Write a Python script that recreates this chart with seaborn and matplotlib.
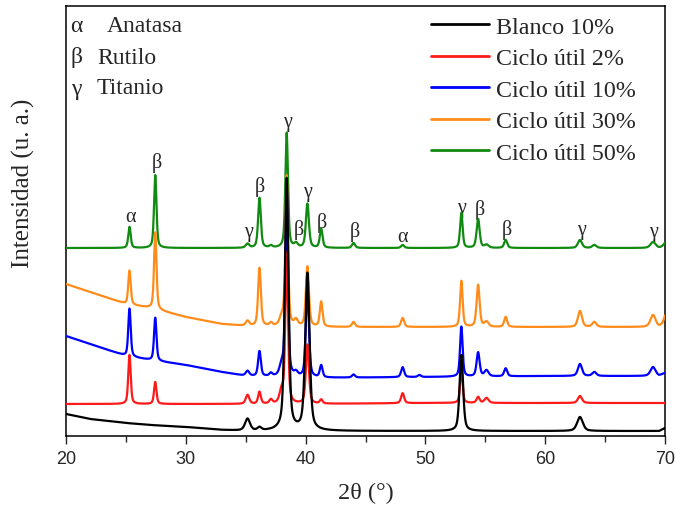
import numpy as np
import pandas as pd
import seaborn as sns
import matplotlib
matplotlib.use("Agg")
import matplotlib.pyplot as plt

# ---- diffraction data (2θ in degrees, intensity in arbitrary units) ----
series_names = ["Blanco 10%", "Ciclo útil 2%", "Ciclo útil 10%", "Ciclo útil 30%", "Ciclo útil 50%"]
series_colors = ["#000000", "#ff1a1a", "#0000ff", "#ff8c1a", "#108a10"]

# reflection positions and widths (FWHM, degrees)
peak_pos = [25.3, 27.45, 35.15, 36.15, 37.1, 38.0, 38.42, 39.2, 40.15, 41.3, 44.0,
            48.1, 49.5, 53.0, 54.4, 55.1, 56.7, 62.9, 64.1, 69.0, 70.1]
peak_fwhm = [0.24, 0.24, 0.35, 0.27, 0.3, 0.4, 0.26, 0.35, 0.3, 0.27, 0.3,
             0.3, 0.3, 0.25, 0.3, 0.4, 0.3, 0.4, 0.4, 0.5, 0.4]

# peak heights above background, one list per sample
amp_blanco = [0, 0, 12, 3, 0, 0, 252, 0, 157, 0, 0, 0, 0, 76, 0, 0, 0, 14, 0, 0, 0]
amp_c2 = [49, 22, 9, 12, 4, 12, 150, 0, 59, 4, 0, 10, 0, 33, 6, 5, 0, 7, 0, 0, 0]
amp_c10 = [48, 43, 5, 25, 3, 10, 190, 4, 90, 12, 3, 10, 2, 50, 24, 6, 8, 12, 4, 9, 0]
amp_c30 = [34, 77, 5, 58, 3, 8, 150, 6, 60, 25, 5, 9, 0, 46, 42, 5, 10, 16, 5, 12, 10]
amp_c50 = [21, 73, 4, 50, 2, 0, 115, 4, 44, 19, 5, 3, 0, 35, 29, 3, 8, 8, 3, 6, 4]
width_factor = [1.4, 1.0, 1.0, 1.0, 1.0]

# background level (stacked offsets included) at a few 2θ values
bg_x = [20, 22, 25, 27, 30, 33, 35, 40, 50, 60, 69.5, 70]
bg_blanco = [22, 17, 13, 11, 9, 6, 5, 5, 5, 5, 5, 8]
bg_c2 = [32, 32, 32, 32, 32, 32, 32, 32, 33, 33, 33, 33]
bg_c10 = [100, 92, 80, 76, 71, 64, 60, 58, 59, 60, 60, 63]
bg_c30 = [152, 144, 132, 128, 119, 112, 110, 109, 109, 109, 109, 112]
bg_c50 = [188, 188, 188, 188, 188, 188, 188, 188, 188, 188, 188, 190]

# phase labels above the top pattern
ann_x = [25.4, 27.6, 35.2, 36.2, 38.45, 39.4, 40.2, 41.4, 44.1, 48.1, 53.05, 54.55, 56.8, 63.07, 69.0]
ann_sym = ["α", "β", "γ", "β", "γ", "β", "γ", "β", "β", "α", "γ", "β", "β", "γ", "γ"]
ann_y = [219, 274, 204, 250, 315, 207, 244, 214, 205, 199, 229, 227, 207, 207, 205]

amps = [amp_blanco, amp_c2, amp_c10, amp_c30, amp_c50]
bgs = [bg_blanco, bg_c2, bg_c10, bg_c30, bg_c50]

two_theta = np.linspace(20, 70, 5001)


def pattern(amp, bg, wf):
    y = np.interp(two_theta, bg_x, bg).astype(float)
    for p, a, w in zip(peak_pos, amp, peak_fwhm):
        if a == 0:
            continue
        w = w * wf
        lor = 1.0 / (1.0 + (2.0 * (two_theta - p) / w) ** 2)
        gau = np.exp(-4.0 * np.log(2.0) * ((two_theta - p) / w) ** 2)
        y += a * (0.5 * lor + 0.5 * gau)
    return y


frames = []
for name, amp, bg, wf in zip(series_names, amps, bgs, width_factor):
    frames.append(pd.DataFrame({"2θ": two_theta, "I": pattern(amp, bg, wf), "muestra": name}))
df = pd.concat(frames, ignore_index=True)

sns.set_style("ticks")
plt.rcParams["font.family"] = ["Liberation Serif", "DejaVu Serif"]

fig = plt.figure(figsize=(6.76, 5.06), dpi=100)
ax = fig.add_axes([66 / 676, 1 - 437 / 506, 599 / 676, 430 / 506])

for i, (name, col) in enumerate(zip(series_names, series_colors)):
    sns.lineplot(data=df[df["muestra"] == name], x="2θ", y="I", ax=ax, color=col,
                 linewidth=1.6, label=name, estimator=None, sort=False, zorder=10 - i)

ax.set_xlim(20, 70)
ax.set_ylim(0, 430)
ax.set_xticks([20, 30, 40, 50, 60, 70])
ax.set_xticks([25, 35, 45, 55, 65], minor=True)
ax.set_yticks([])
ax.tick_params(axis="x", which="major", direction="out", length=6, width=1, labelsize=13, pad=4)
ax.tick_params(axis="x", which="minor", direction="out", length=4, width=1)
for lbl in ax.get_xticklabels():
    lbl.set_fontfamily(["Liberation Sans", "DejaVu Sans"])
for sp in ax.spines.values():
    sp.set_visible(True)
    sp.set_linewidth(1.1)
    sp.set_color("black")

ax.set_xlabel("2θ (°)", fontsize=17.5, labelpad=11)
ax.set_ylabel("")
fig.text(23 / 676, 1 - 183 / 506, "Intensidad (u. a.)", rotation=90, ha="center", va="center", fontsize=18)

for x, s, y in zip(ann_x, ann_sym, ann_y):
    ax.text(x, y, s, ha="center", va="center", fontsize=14.5)

# phase key
key_sym = ["α", "β", "γ"]
key_name = ["Anatasa", "Rutilo", "Titanio"]
key_name_x = [107, 97, 97]
key_y = [26, 58, 89]
for s, n, nx, y in zip(key_sym, key_name, key_name_x, key_y):
    fig.text(76 / 676, 1 - y / 506, s, ha="center", va="center", fontsize=17)
    fig.text(nx / 676, 1 - y / 506, n, ha="left", va="center", fontsize=17)

leg = ax.legend(loc="upper left", bbox_to_anchor=((431 - 66) / 599, (437 - 17) / 430),
                frameon=False, fontsize=17.3, handlelength=2.4, handletextpad=0.3,
                labelspacing=0.4, borderpad=0, borderaxespad=0)
for h in leg.get_lines():
    h.set_linewidth(2)

fig.savefig("out.png", dpi=100)
